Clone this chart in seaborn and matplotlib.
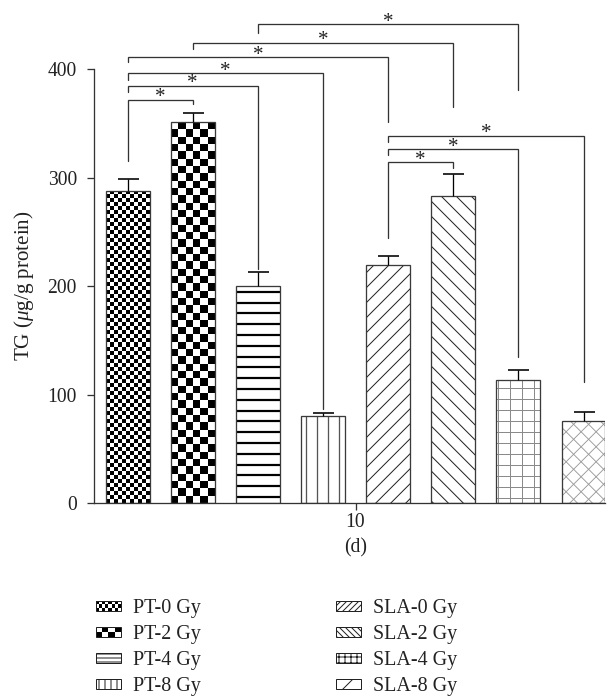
import numpy as np
import pandas as pd
import matplotlib
matplotlib.use("Agg")
import matplotlib.pyplot as plt
import seaborn as sns
from matplotlib.patches import Patch, Rectangle
from matplotlib.collections import LineCollection
from matplotlib.legend_handler import HandlerBase
from matplotlib.colors import ListedColormap

# ---------------- data ----------------
groups = ["PT-0 Gy", "PT-2 Gy", "PT-4 Gy", "PT-8 Gy",
          "SLA-0 Gy", "SLA-2 Gy", "SLA-4 Gy", "SLA-8 Gy"]
dose = ["10"] * 8
tg_mean = [288, 351, 200, 80, 219, 283, 113, 76]
tg_err = [11, 8, 13, 3, 9, 20, 10, 8]
y_ticks = [0, 100, 200, 300, 400]
# significance brackets: (left bar, right bar, top level, left leg end, right leg end)
br_left = [0, 0, 0, 0, 1, 2, 4, 4, 4]
br_right = [1, 2, 3, 4, 5, 6, 5, 6, 7]
br_top = [371.5, 384.4, 396.0, 410.9, 424.4, 441.3, 313.9, 326.2, 338.5]
br_lend = [315.0, 379.0, 389.6, 406.8, 418.3, 433.6, 243.8, 320.7, 333.0]
br_rend = [367.5, 216.0, 87.0, 351.4, 364.7, 380.7, 308.4, 135.0, 111.4]

# ---------------- style ----------------
sns.set_theme(style="ticks")
plt.rcParams["font.family"] = ["Liberation Serif", "DejaVu Serif"]
plt.rcParams["mathtext.fontset"] = "custom"
plt.rcParams["mathtext.rm"] = "Liberation Serif"
plt.rcParams["mathtext.it"] = "Liberation Serif:italic"
plt.rcParams["hatch.linewidth"] = 1.0

DPI = 72
W, H = 607, 699
fig = plt.figure(figsize=(W / DPI, H / DPI), dpi=DPI)
fig.patch.set_facecolor("white")
ax_left, ax_right, ax_bottom = 94, 605, 503
ax = fig.add_axes([ax_left / W, (H - ax_bottom) / H, (ax_right - ax_left) / W, ax_bottom / H])

df = pd.DataFrame({"dose": dose, "group": groups, "TG": tg_mean})
sns.barplot(data=df, x="dose", y="TG", hue="group", hue_order=groups,
            palette=["white"] * 8, errorbar=None, width=0.8, gap=0.325,
            edgecolor="#3a3a3a", linewidth=1.3, legend=False, ax=ax)

YMAX = 463.6
XLIM = (-0.4015, 0.383)
ax.set_ylim(0, YMAX)
ax.set_xlim(*XLIM)

bars = sorted([p for p in ax.patches if isinstance(p, Rectangle)], key=lambda p: p.get_x())


def bar_px_box(p):
    x0, w, h = p.get_x(), p.get_width(), p.get_height()
    a = ax.transData.transform((x0, 0))
    b = ax.transData.transform((x0 + w, h))
    return a, b


def line_hatch(p, angle, spacing, lw, color, offset=0.0):
    a, b = bar_px_box(p)
    corners = np.array([[a[0], a[1]], [b[0], a[1]], [a[0], b[1]], [b[0], b[1]]])
    th = np.deg2rad(angle)
    d = np.array([np.cos(th), np.sin(th)])
    n = np.array([-np.sin(th), np.cos(th)])
    proj = corners @ n
    L = np.hypot(b[0] - a[0], b[1] - a[1]) + 10
    cen = corners.mean(axis=0)
    c0 = cen @ n
    segs = []
    t = proj.min() + offset
    inv = ax.transData.inverted()
    while t < proj.max():
        base = cen + (t - c0) * n
        p1 = inv.transform(base - L * d)
        p2 = inv.transform(base + L * d)
        segs.append([p1, p2])
        t += spacing
    lc = LineCollection(segs, colors=color, linewidths=lw, zorder=1.5)
    ax.add_collection(lc, autolim=False)
    lc.set_clip_path(p)


checker_cmap = ListedColormap(["black", "white"])


def checker(p, cell):
    x0, w, h = p.get_x(), p.get_width(), p.get_height()
    a, b = bar_px_box(p)
    nx = max(1, int(round((b[0] - a[0]) / cell)))
    ny = max(1, int(round((b[1] - a[1]) / cell)))
    arr = np.add.outer(np.arange(ny), np.arange(nx)) % 2
    im = ax.imshow(arr, extent=(x0, x0 + w, 0, h), origin="lower", cmap=checker_cmap,
                   interpolation="nearest", aspect="auto", zorder=1.5)
    im.set_clip_path(p)


for p in bars:
    p.set_zorder(2)
    p.set_facecolor("none")
    bg = Rectangle((p.get_x(), 0), p.get_width(), p.get_height(), facecolor="white",
                   edgecolor="none", zorder=1)
    ax.add_patch(bg)

checker(bars[0], 4.0)
checker(bars[1], 7.33)
line_hatch(bars[2], 0, 10.8, 2.2, "black", offset=6)
line_hatch(bars[3], 90, 11.0, 1.3, "#555555", offset=6)
line_hatch(bars[4], 45, 10.6, 1.0, "#222222", offset=3)
line_hatch(bars[5], 135, 10.6, 1.0, "#222222", offset=3)
line_hatch(bars[6], 0, 11.0, 1.0, "#8a8a8a", offset=5)
line_hatch(bars[6], 90, 12.0, 1.0, "#8a8a8a", offset=6)
line_hatch(bars[7], 45, 10.6, 0.9, "#999999", offset=4)
line_hatch(bars[7], 135, 10.6, 0.9, "#999999", offset=4)

ax.set_ylim(0, YMAX)
ax.set_xlim(*XLIM)

centers = [p.get_x() + p.get_width() / 2 for p in bars]
eb = ax.errorbar(centers, tg_mean, yerr=[np.zeros(len(tg_err)), tg_err], fmt="none",
                 ecolor="black", elinewidth=1.3, capsize=10.5, capthick=1.6, zorder=3)
eb[1][0].set_visible(False)

# brackets
for i, j, yt, yl, yr in zip(br_left, br_right, br_top, br_lend, br_rend):
    xl, xr = centers[i], centers[j]
    ax.plot([xl, xl, xr, xr], [yl, yt, yt, yr], color="#333333", lw=1.3,
            clip_on=False, solid_joinstyle="miter", zorder=3)
    ax.annotate("*", xy=((xl + xr) / 2, yt), xytext=(0, -2.5), textcoords="offset points",
                ha="center", va="baseline", fontsize=21, color="#222222")

# axes styling
sns.despine(ax=ax)
ax.spines["left"].set_bounds(0, 400)
for s in ["left", "bottom"]:
    ax.spines[s].set_color("#333333")
    ax.spines[s].set_linewidth(1.3)
ax.set_yticks(y_ticks)
ax.set_yticklabels([str(t) for t in y_ticks])
ax.tick_params(axis="both", length=7, width=1.3, color="#333333", labelsize=19.5,
               labelcolor="#222222")
ax.tick_params(axis="y", pad=10)
ax.tick_params(axis="x", pad=3)
ax.set_xlabel("")
ax.set_ylabel(r"TG ($\mu$g/g protein)", fontsize=21, color="#222222")
ax.yaxis.set_label_coords((36 - ax_left) / (ax_right - ax_left), 200 / YMAX)

fig.text(356 / W, (H - 548) / H, "(d)", ha="center", va="center", fontsize=19.5, color="#222222")


# legend
class HandlerChecker(HandlerBase):
    def __init__(self, ncols, nrows):
        super().__init__()
        self.ncols, self.nrows = ncols, nrows

    def create_artists(self, legend, orig_handle, xdescent, ydescent, width, height, fontsize, trans):
        x0, y0 = -xdescent, -ydescent
        cw, ch = width / self.ncols, height / self.nrows
        arts = [Rectangle((x0, y0), width, height, facecolor="white", edgecolor="none", transform=trans)]
        for r in range(self.nrows):
            for c in range(self.ncols):
                if (r + c) % 2 == 0:
                    arts.append(Rectangle((x0 + c * cw, y0 + r * ch), cw, ch, facecolor="black",
                                          edgecolor="none", lw=0, transform=trans))
        arts.append(Rectangle((x0, y0), width, height, fill=False, edgecolor="#222222", lw=1,
                              transform=trans))
        return arts


leg_hatches = [None, None, "---", "||", "////", "\\\\\\\\", "++", "/"]
handles = []
for k, g in enumerate(groups):
    h = Patch(facecolor="white", edgecolor="#222222", lw=1, hatch=leg_hatches[k], label=g)
    handles.append(h)
hmap = {handles[0]: HandlerChecker(8, 3), handles[1]: HandlerChecker(4, 2)}

leg_kw = dict(frameon=False, fontsize=20, handlelength=1.25, handleheight=0.42,
              handletextpad=0.6, labelspacing=0.35, borderpad=0, borderaxespad=0,
              loc="upper left", labelcolor="#222222")
l1 = fig.legend(handles=handles[:4], labels=groups[:4], handler_map=hmap,
                bbox_to_anchor=(96 / W, (H - 599) / H), **leg_kw)
l2 = fig.legend(handles=handles[4:], labels=groups[4:],
                bbox_to_anchor=(336 / W, (H - 599) / H), **leg_kw)

fig.savefig("out.png", dpi=DPI, facecolor="white")
